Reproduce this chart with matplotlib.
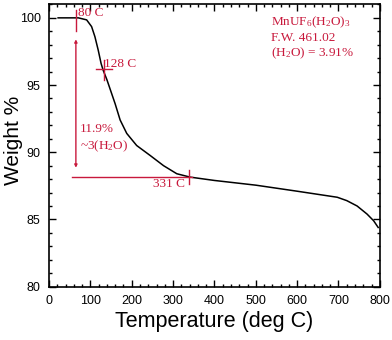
import matplotlib
matplotlib.use('Agg')
import matplotlib.pyplot as plt
from matplotlib.ticker import MultipleLocator

plt.rcParams['mathtext.fontset'] = 'custom'
plt.rcParams['mathtext.rm'] = 'Liberation Serif'
plt.rcParams['mathtext.it'] = 'Liberation Serif:italic'

# TGA curve
temps = [22, 60, 71, 91, 103, 111, 119, 126, 131, 140, 150, 160, 172, 188,
         212, 245, 277, 309, 341, 400, 500, 600, 697, 720, 745, 769, 785, 796]
weights = [100.0, 100.0, 100.0, 99.85, 99.35, 98.6, 97.6, 96.6, 96.1, 95.4,
           94.5, 93.6, 92.4, 91.4, 90.5, 89.75, 89.0, 88.4, 88.15, 87.9,
           87.55, 87.1, 86.65, 86.4, 86.0, 85.4, 84.9, 84.4]

red = '#c8193c'
serif = ['Liberation Serif', 'DejaVu Serif']
sans = ['Liberation Sans', 'DejaVu Sans']
fs = 9.5

fig = plt.figure(figsize=(3.92, 3.40), dpi=100)
ax = fig.add_axes([0.125, 0.157, 0.844, 0.830])

ax.plot(temps, weights, color='black', lw=1.1)

# onset marker at 80 C
ax.plot([65, 65], [99.0, 100.55], color=red, lw=1)
ax.annotate('', xy=(65, 88.85), xytext=(65, 98.4),
            arrowprops=dict(arrowstyle='<|-|>', color=red, lw=1,
                            mutation_scale=4, shrinkA=0, shrinkB=0))
ax.text(69, 100.35, '80 C', color=red, fontsize=fs, family=serif,
        va='center', ha='left')

# inflection at 128 C
ax.plot([114, 152], [96.2, 96.2], color=red, lw=1)
ax.plot([133, 133], [95.4, 96.9], color=red, lw=1)
ax.text(134, 96.6, '128 C', color=red, fontsize=fs, family=serif,
        va='center', ha='left')

# end of step at 331 C
ax.plot([56, 345], [88.15, 88.15], color=red, lw=1)
ax.plot([339, 339], [87.6, 88.7], color=red, lw=1)
ax.text(329, 87.65, '331 C', color=red, fontsize=fs, family=serif,
        va='center', ha='right')

ax.text(75, 91.75, '11.9%', color=red, fontsize=fs, family=serif,
        va='center', ha='left')
ax.text(75, 90.45, r'~3(H$_2$O)', color=red, fontsize=fs, family=serif,
        va='center', ha='left')

ax.text(538, 99.65, r'MnUF$_6$(H$_2$O)$_3$', color=red, fontsize=fs,
        family=serif, va='center', ha='left')
ax.text(538, 98.5, 'F.W. 461.02', color=red, fontsize=fs, family=serif,
        va='center', ha='left')
ax.text(538, 97.4, r'(H$_2$O) = 3.91%', color=red, fontsize=fs,
        family=serif, va='center', ha='left')

ax.set_xlim(0, 800)
ax.set_ylim(80, 101)
ax.xaxis.set_major_locator(MultipleLocator(100))
ax.xaxis.set_minor_locator(MultipleLocator(20))
ax.yaxis.set_major_locator(MultipleLocator(5))
ax.yaxis.set_minor_locator(MultipleLocator(1))
ax.tick_params(which='both', direction='in', top=True, right=True,
               labelsize=9, width=1)
ax.tick_params(which='major', length=5, pad=6)
ax.tick_params(which='minor', length=2.5)
for lab in ax.get_xticklabels() + ax.get_yticklabels():
    lab.set_family(sans)
for s in ax.spines.values():
    s.set_linewidth(1.2)

ax.set_xlabel('Temperature (deg C)', fontsize=15.5, family=sans, labelpad=3)
ax.set_ylabel('Weight %', fontsize=15, family=sans)
ax.yaxis.set_label_coords(-0.08, 0.52)

fig.savefig('out.png', dpi=100)
